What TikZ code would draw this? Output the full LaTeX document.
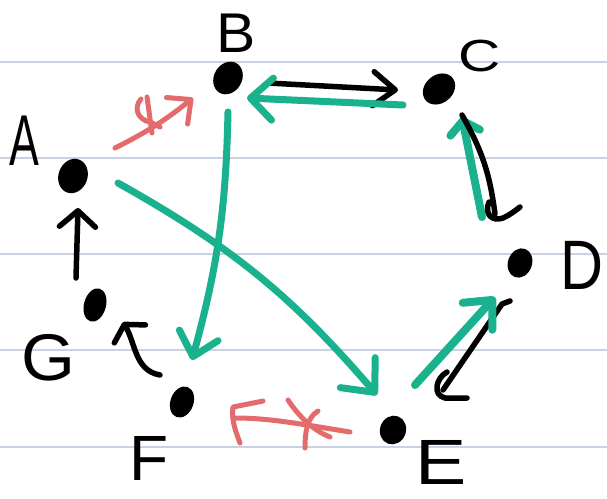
\documentclass[tikz,border=0pt]{standalone}
\usepackage{fontspec}
\setmainfont{Liberation Sans}
\usetikzlibrary{arrows.meta,shapes.geometric}
\definecolor{tealc}{HTML}{1AB18E}
\definecolor{redc}{HTML}{E36B6B}
\definecolor{gridc}{HTML}{C8D2E2}
\begin{document}
\begin{tikzpicture}[x=1pt,y=1pt,
  gridline/.style={draw=gridc,line width=1.6pt},
  dot/.style={ellipse,fill=black,inner sep=0pt},
  blk/.style={draw=black,line width=5.5pt,line cap=round,line join=round},
  tl/.style={draw=tealc,line width=7pt,line cap=round,line join=round},
  rd/.style={draw=redc,line width=5pt,line cap=round,line join=round},
  lbl/.style={inner sep=0pt,text=black},
  barb/.style 2 args={-{Straight Barb[length=#1,width=#2,round]}}]
\useasboundingbox (0,0) rectangle (607,-498);
\fill[white] (0,0) rectangle (607,-498);
\foreach \yy in {62,158,254,350,447}{\draw[gridline] (0,-\yy) -- (607,-\yy);}
% vertices
\node[dot,minimum width=29pt,minimum height=35pt,rotate=-20] (a) at (73,-176) {};
\node[dot,minimum width=28pt,minimum height=34pt,rotate=-30] (b) at (228,-78) {};
\node[dot,minimum width=28pt,minimum height=35pt,rotate=-50] (c) at (439,-89) {};
\node[dot,minimum width=24pt,minimum height=30pt,rotate=-20] (d) at (520,-263) {};
\node[dot,minimum width=26pt,minimum height=29pt,rotate=-20] (e) at (393,-430) {};
\node[dot,minimum width=23pt,minimum height=32pt,rotate=-20] (f) at (182,-402) {};
\node[dot,minimum width=22pt,minimum height=34pt,rotate=-15] (g) at (95,-305) {};
% labels
\node[lbl,font=\fontsize{72}{72}\selectfont,xscale=0.62] (la) at (24,-141) {A};
\node[lbl,font=\fontsize{56}{56}\selectfont,xscale=1.05] (lb) at (236,-33) {B};
\node[lbl,font=\fontsize{45}{45}\selectfont,xscale=1.3] (lc) at (480,-56) {C};
\node[lbl,font=\fontsize{70}{70}\selectfont,xscale=0.85] (ld) at (582,-265) {D};
\node[lbl,font=\fontsize{64}{64}\selectfont,xscale=1.2] (le) at (441,-462) {E};
\node[lbl,font=\fontsize{64}{64}\selectfont,xscale=1.0] (lf) at (149,-458) {F};
\node[lbl,font=\fontsize{66}{66}\selectfont,xscale=1.05] (lg) at (48,-358) {G};
% black edges
\draw[blk,barb={16pt}{36pt}] ([shift={(-19,27)}]g.center) -- ([shift={(5,-32)}]a.center);
\draw[blk,barb={11pt}{36pt}] ([shift={(-22,27)}]f.center) to[out=170,in=-60] ([shift={(28,-17)}]g.center);
\draw[blk,barb={22pt}{34pt}] ([shift={(40,-5)}]b.center) -- ([shift={(-41,-1)}]c.center);
\draw[blk] ([shift={(-10,-38)}]d.center) -- ([shift={(-18,-41)}]d.center) -- ([shift={(50,40)}]e.center);
\draw[blk] (447,-372) .. controls (436,-378) and (432,-395) .. (445,-398) -- (467,-398);
% teal edges
\draw[tl,line width=8pt,barb={12pt}{30pt}] ([shift={(-38,46)}]d.center) -- ([shift={(23,-28)}]c.center);
\draw[blk] ([shift={(23,-26)}]c.center) to[bend left=11] ([shift={(-25,49)}]d.center);
\draw[blk] (489,-202) .. controls (484,-214) and (492,-222) .. (503,-218) .. controls (510,-215) and (516,-210) .. (520,-207);
\draw[tl,barb={22pt}{42pt}] ([shift={(-36,-16)}]c.center) -- ([shift={(19,-20)}]b.center);
\draw[tl,barb={22pt}{40pt}] ([shift={(0,-34)}]b.center) to[bend left=7] ([shift={(10,42)}]f.center);
\draw[tl,barb={26pt}{46pt}] ([shift={(45,-7)}]a.center) to[bend left=10] ([shift={(-16,35)}]e.center);
\draw[tl,line width=8pt,barb={22pt}{40pt}] ([shift={(22,45)}]e.center) -- ([shift={(-25,-34)}]d.center);
% red crossed edges
\draw[rd,barb={18pt}{34pt}] ([shift={(42,28)}]a.center) to[bend right=6] ([shift={(-35,-20)}]b.center);
\draw[rd] (147,-97) -- (152,-133);
\draw[rd] (141,-99) .. controls (133,-108) and (138,-120) .. (150,-122) -- (160,-127);
\draw[rd] ([shift={(-43,-2)}]e.center) .. controls (300,-424) and (270,-418) .. ([shift={(53,-16)}]f.center);
\draw[rd] (263,-401) -- (233,-407) .. controls (231,-420) and (236,-432) .. (240,-443);
\draw[rd] (288,-400) .. controls (298,-415) and (312,-430) .. (330,-437);
\draw[rd] (318,-411) .. controls (306,-418) and (305,-435) .. (305,-448);
\end{tikzpicture}
\end{document}
